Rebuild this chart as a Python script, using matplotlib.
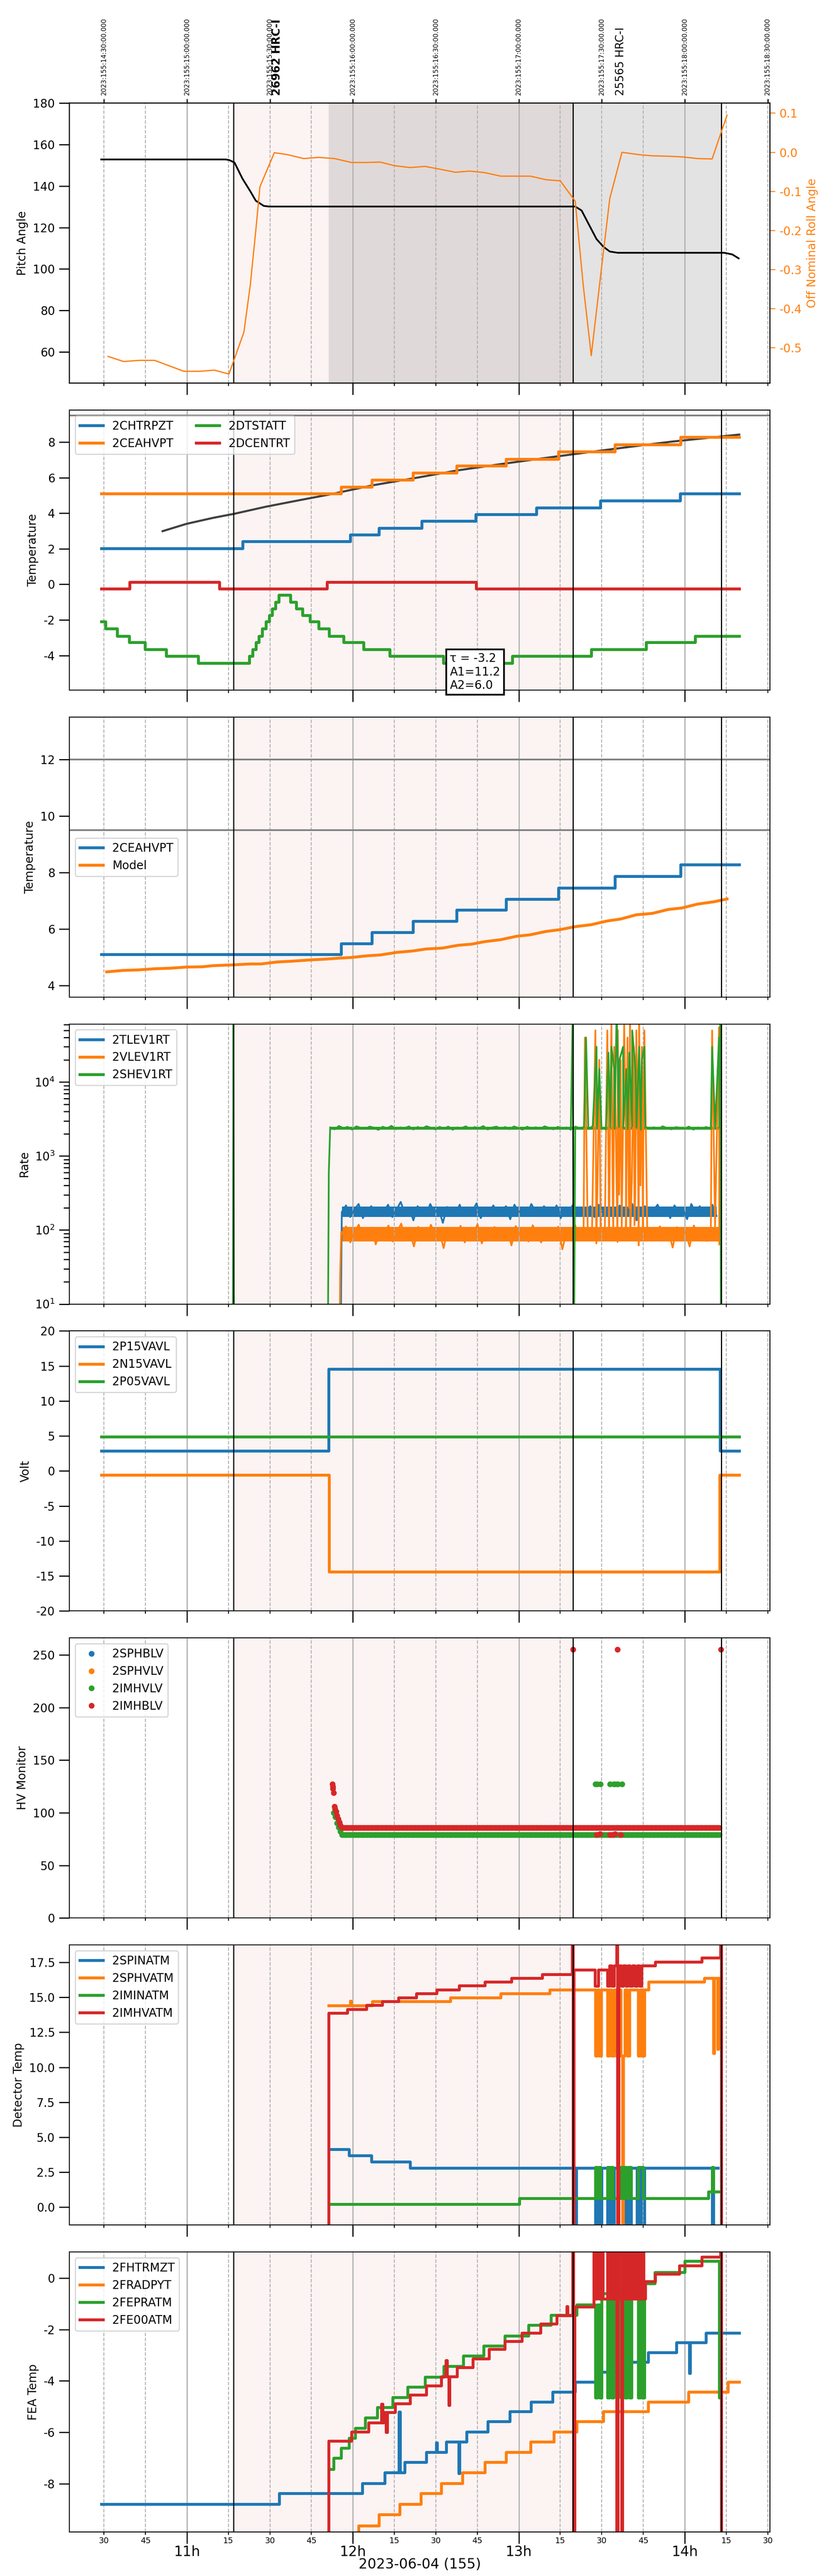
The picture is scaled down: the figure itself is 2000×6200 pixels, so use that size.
from datetime import datetime, timedelta
import numpy as np
import matplotlib
matplotlib.use("Agg")
import matplotlib.pyplot as plt
import matplotlib.dates as mdates
from matplotlib.ticker import FuncFormatter

plt.rcParams['axes.unicode_minus'] = False

# All times are minutes after 10:00 local (EDT) on 2023-06-04; UTC = local + 4h
BASE = datetime(2023, 6, 4, 10, 0)
UTC_SHIFT = timedelta(hours=4)

x_range = (17.5, 270.8)
obs_edges = [76.9, 199.6, 253.2]
hv_on = (111.2, 253.2)
obs_labels = [(92.6, '26962 HRC-I', 'bold'), (216.8, '25565 HRC-I', 'normal')]

# ---- panel 1: pitch / roll
pitch_t = [29.0, 74.0, 75.3, 77.2, 80.1, 82.9, 84.9, 87.8, 89.7, 200.4, 202.7, 205.2,
           208.1, 210.6, 212.9, 215.8, 254.3, 257.2, 259.5]
pitch_v = [152.8, 152.8, 152.5, 151.3, 143.5, 137.5, 132.9, 130.4, 130.1, 130.1, 128.2, 121.8,
           114.4, 110.7, 108.4, 107.8, 107.8, 107.0, 105.1]
roll_t = [31.5, 37.1, 42.9, 48.3, 58.9, 64.7, 69.9, 75.2, 80.6, 82.9, 84.9, 86.4, 91.6, 96.4,
          102.2, 107.6, 113.4, 119.5, 124.9, 129.9, 134.9, 140.7, 146.1, 151.3, 157.1, 162.3,
          167.7, 173.5, 178.8, 184.2, 189.8, 195.0, 200.4, 203.3, 206.2, 210.0, 212.9, 217.3,
          223.5, 228.3, 234.1, 239.5, 244.7, 249.9, 253.4, 255.3]
roll_v = [-0.522, -0.535, -0.532, -0.532, -0.560, -0.560, -0.557, -0.567, -0.460, -0.340, -0.200,
          -0.088, -0.001, -0.006, -0.016, -0.013, -0.016, -0.026, -0.026, -0.025, -0.034, -0.039,
          -0.036, -0.043, -0.051, -0.048, -0.052, -0.061, -0.061, -0.061, -0.070, -0.073, -0.125,
          -0.340, -0.520, -0.290, -0.118, 0.000, -0.006, -0.009, -0.010, -0.012, -0.016, -0.017,
          0.056, 0.095]

# ---- panel 2: temperatures
chtr_t = [29.0, 80.1, 119.1, 129.5, 144.9, 164.4, 186.3, 209.5, 238.3, 259.7]
chtr_v = [2.02, 2.41, 2.80, 3.17, 3.55, 3.94, 4.31, 4.71, 5.10, 5.10]
ceah_t = [29.0, 115.7, 126.8, 141.7, 157.5, 175.4, 194.4, 214.8, 238.5, 259.7]
ceah_v = [5.10, 5.48, 5.88, 6.27, 6.67, 7.05, 7.45, 7.86, 8.27, 8.27]
dtst_t = [29.0, 30.6, 34.8, 39.2, 44.8, 52.5, 64.1, 82.6, 83.7, 84.9, 86.0, 87.2, 88.5, 89.7,
          90.8, 92.0, 93.2, 97.4, 99.5, 101.8, 104.5, 107.6, 111.4, 116.6, 123.8, 133.4, 152.7,
          177.7, 206.2, 226.0, 243.7, 259.7]
dtst_v = [-2.1, -2.5, -2.9, -3.27, -3.65, -4.02, -4.43, -4.02, -3.65, -3.27, -2.9, -2.5, -2.1,
          -1.75, -1.37, -1.0, -0.6, -1.0, -1.37, -1.75, -2.1, -2.5, -2.9, -3.27, -3.65, -4.02,
          -4.43, -4.02, -3.65, -3.27, -2.9, -2.9]
dcen_t = [29.0, 39.3, 71.8, 110.7, 164.6, 259.7]
dcen_v = [-0.24, 0.13, -0.24, 0.13, -0.24, -0.24]
fit_t = [51.2, 59.8, 69.5, 77.2, 88.7, 100.3, 111.8, 127.2, 142.6, 158.0, 173.5, 188.9, 204.3,
         219.6, 235.1, 259.7]
fit_v = [2.99, 3.40, 3.74, 3.97, 4.37, 4.72, 5.06, 5.57, 5.98, 6.41, 6.76, 7.09, 7.41, 7.72,
         8.02, 8.42]
fit_text = 'τ = -3.2\nA1=11.2\nA2=6.0'

# ---- panel 3: model
model_t = [31.0, 36.7, 42.5, 48.3, 54.1, 59.8, 65.6, 69.5, 77.2, 82.9, 86.8, 92.6, 98.3, 104.1,
           109.9, 115.7, 119.5, 125.3, 130.1, 135.9, 141.7, 146.5, 152.3, 158.0, 162.9, 167.7,
           173.5, 179.2, 184.0, 189.8, 194.6, 200.4, 206.2, 211.9, 216.8, 222.5, 228.3, 234.1,
           238.9, 244.7, 250.5, 255.3]
model_v = [4.48, 4.53, 4.55, 4.59, 4.61, 4.65, 4.66, 4.70, 4.73, 4.76, 4.76, 4.83, 4.86, 4.90,
           4.93, 4.97, 4.99, 5.05, 5.08, 5.17, 5.22, 5.29, 5.32, 5.42, 5.46, 5.55, 5.62, 5.74,
           5.79, 5.91, 5.97, 6.08, 6.15, 6.28, 6.35, 6.50, 6.55, 6.69, 6.74, 6.88, 6.96, 7.06]
plan_limits = [9.5, 12.0]

# ---- panel 4: rates (band = regularly sampled stretch, core = its dense middle)
tlev_pre_t = [29.0, 115.5, 115.9]
tlev_pre_v = [1, 1, 70]
tlev_band_span = (116.0, 251.5)
tlev_core = (150, 208)
tlev_band = [175, 215, 150, 190, 225, 145, 185, 210, 160, 195, 180, 220, 150, 190, 240, 165, 200,
             135, 210, 180, 160, 225, 175, 195, 125, 205, 185, 165, 220, 155, 195, 180, 230, 145,
             190, 175, 215, 160, 185, 210, 140, 220, 175, 190, 160, 225, 180, 155, 210, 185, 165,
             215, 145, 195, 180, 225, 160, 190, 175, 210, 150, 220, 185, 165, 200, 155, 215, 180,
             170, 225, 135, 190, 210, 160, 185, 220, 165, 200, 145, 215, 180, 195, 140, 225, 175,
             210, 160, 185, 220, 155]
vlev_pre_t = [29.0, 115.2, 115.4, 115.8]
vlev_pre_v = [1, 1, 25, 95]
vlev_band_span = (116.0, 252.5)
vlev_core = (70, 110)
vlev_band = [88, 112, 68, 95, 118, 74, 92, 108, 64, 98, 84, 115, 70, 93, 122, 76, 97, 60, 110, 88,
             72, 118, 84, 96, 57, 108, 90, 76, 114, 68, 95, 86, 120, 66, 93, 80, 110, 72, 90, 106,
             62, 113, 84, 94, 70, 116, 87, 68, 106, 90, 76, 111, 55, 97, 86, 117, 72, 93, 82, 107,
             66, 113, 89, 75, 100, 69, 111, 86, 80, 116, 62, 94, 106, 72, 89, 112, 76, 98, 58, 109,
             86, 95, 60, 115, 80, 106, 71, 90, 112, 64]
vlev_burst_t = [203.9, 207.7, 208.4, 209.1, 212.0, 212.5, 213.0, 213.5, 214.0, 214.5, 215.0,
                215.8, 216.3, 216.8, 218.1, 218.7, 219.3, 219.8, 220.2, 220.9, 221.6, 222.1,
                222.5, 223.0, 223.5, 224.0, 224.5, 225.0, 225.4, 249.9, 252.4]
vlev_burst_v = [4e4, 5e4, 300, 2e4, 5e4, 400, 2500, 6e4, 200, 3e4, 3000, 5e4, 300, 2e4, 6e4, 2500,
                4e4, 200, 6e4, 500, 3e4, 300, 5e4, 2000, 6e4, 400, 3e4, 1500, 5e4, 5e4, 5.5e4]
shev_pre_t = [29.0, 76.6, 76.8, 77.0, 110.9, 111.3]
shev_pre_v = [1, 1, 1e5, 1, 1, 600]
shev_band_span = (111.8, 252.6)
shev_core = (2260, 2480)
shev_band = [2450, 2300, 2550, 2380, 2480, 2280, 2520, 2400, 2330, 2500, 2420, 2260, 2490, 2370,
             2560, 2310, 2440, 2390, 2510, 2290, 2470, 2350, 2530, 2410, 2300, 2480, 2360, 2500,
             2270, 2440, 2390, 2520, 2320, 2460, 2380, 2540, 2290, 2430, 2500, 2350, 2470, 2310,
             2510, 2400, 2280, 2490, 2370, 2450, 2330, 2520, 2410, 2300, 2480, 2360, 2440, 2270,
             2500, 2390, 2460, 2320, 2530, 2380, 2430, 2290, 2490, 2350, 2470, 2400, 2310, 2510,
             2420, 2280, 2480, 2370, 2450, 2330, 2520, 2390, 2300, 2460, 2410, 2350, 2500, 2280,
             2440, 2380, 2470, 2320, 2490, 2400]
shev_burst_t = [199.5, 199.9, 204.3, 208.1, 209.1, 212.4, 213.5, 214.5, 215.4, 216.4, 217.7, 218.9,
                220.0, 221.0, 222.2, 223.5, 224.5, 225.4, 249.9, 252.4, 252.9, 253.1]
shev_burst_v = [1e5, 1, 4e4, 3e4, 1.5e4, 2.5e4, 3e4, 1.5e4, 1e5, 2e4, 3e4, 1.5e4, 2.5e4, 5e4,
                1.5e4, 3e4, 2e4, 3e4, 3e4, 4e4, 1e5, 1]

# ---- panel 5: voltages
p15_t, p15_v = [29.0, 111.2, 252.8, 259.7], [2.85, 14.58, 2.85, 2.85]
n15_t, n15_v = [29.0, 111.4, 252.6, 259.7], [-0.58, -14.42, -0.58, -0.58]
p05_t, p05_v = [29.0, 259.7], [4.88, 4.88]

# ---- panel 6: HV monitors (flat stretches as start, end, level)
hv_sample = 0.5
imhv_ramp_t = [113.0, 113.6, 114.2, 114.8, 115.4, 116.0]
imhv_ramp_v = [100, 96, 90, 86, 82, 79]
imhv_flat = (116.4, 252.8, 79.1)
imhv_out_t = [207.7, 208.3, 209.5, 212.9, 214.3, 215.0, 215.8, 217.3]
imhv_out_v = [127, 127, 127, 127, 127, 127, 127, 127]
imhb_ramp_t = [112.6, 112.7, 112.8, 113.0, 113.4, 113.5, 113.9, 114.3, 114.7, 115.1, 115.5, 115.9]
imhb_ramp_v = [127, 125, 123, 119, 106, 104, 101, 97, 94, 91, 88, 86]
imhb_flat = (116.0, 252.8, 85.9)
imhb_out_t = [199.6, 215.6, 253.1, 208.1, 209.3, 212.9, 213.9, 214.8, 216.8]
imhb_out_v = [255, 255, 255, 79, 80, 79, 79, 80, 79]

# ---- panel 7: detector temperatures (steps)
spin_t = [111.2, 118.6, 126.7, 140.7, 200.4, 200.8, 207.7, 208.6, 209.2, 210.0, 212.0, 213.0,
          213.6, 214.5, 218.1, 219.0, 219.6, 220.6, 222.7, 223.7, 224.3, 225.4, 249.9, 250.3, 252.0]
spin_v = [4.14, 3.69, 3.25, 2.81, -20, 2.81, -20, 2.81, -20, 2.81, -20, 2.81, -20, 2.81, -20, 2.81,
          -20, 2.81, -20, 2.81, -20, 2.81, -20, 2.81, 2.81]
sphv_t = [111.2, 119.0, 119.4, 127.0, 155.2, 173.5, 191.2, 207.7, 208.4, 209.0, 209.8, 212.0,
          212.8, 213.5, 214.4, 215.2, 216.0, 216.8, 217.4, 217.7, 218.4, 219.2, 220.0, 223.2,
          224.0, 224.6, 225.4, 227.0, 247.0, 250.3, 250.6, 251.8, 252.1, 252.9]
sphv_v = [14.43, 14.75, 14.43, 14.71, 14.99, 15.28, 15.55, 10.82, 15.55, 10.82, 15.55, 10.82,
          15.55, 10.82, 15.55, 10.82, 15.55, 10.82, -20, 10.82, 15.55, 10.82, 15.55, 10.82, 15.55,
          10.82, 15.55, 16.10, 16.39, 11.0, 16.39, 11.3, 16.39, 16.39]
imin_t = [111.2, 180.2, 207.7, 208.5, 209.0, 209.5, 212.0, 213.0, 213.5, 214.0, 216.8, 217.5,
          218.0, 219.0, 219.5, 220.6, 223.1, 225.0, 248.5, 249.9, 250.3, 252.4]
imin_v = [0.22, 0.64, 2.85, 0.64, 2.85, 0.64, 2.85, 0.64, 2.85, 0.64, 2.85, 0.64, 2.85, 0.64,
          2.85, 0.64, 2.85, 0.64, 1.10, 2.85, 1.10, 1.10]
imhva_t = [110.9, 111.2, 118.0, 124.9, 130.7, 136.5, 143.0, 150.3, 158.4, 167.7, 177.3, 188.5,
           199.3, 199.6, 199.9, 207.5, 208.7, 212.0, 212.8, 213.6, 214.4, 215.3, 215.7, 216.1,
           217.0, 217.8, 218.6, 219.4, 220.2, 221.0, 222.0, 222.8, 223.6, 224.4, 229.3, 246.2,
           252.9, 253.2, 253.4]
imhva_v = [-20, 13.88, 14.15, 14.44, 14.71, 14.99, 15.28, 15.55, 15.83, 16.10, 16.39, 16.66, 30,
           -20, 16.97, 15.80, 16.97, 15.80, 17.28, 15.80, 17.28, 30, -20, 17.28, 15.80, 17.28,
           15.80, 17.28, 15.80, 17.28, 15.80, 17.28, 15.80, 17.28, 17.54, 17.83, 30, -20, -20]

# ---- panel 8: FEA temperatures (steps)
fhtr_t = [29.0, 93.3, 123.4, 131.5, 136.7, 137.1, 138.8, 146.5, 150.1, 150.5, 153.8, 158.2,
          158.6, 161.1, 168.8, 176.7, 184.4, 192.3, 200.4, 207.7, 219.3, 226.8, 237.0, 241.6,
          242.0, 247.6, 259.7]
fhtr_v = [-8.80, -8.38, -7.98, -7.57, -5.20, -7.57, -7.17, -6.77, -6.40, -6.77, -6.37, -7.60,
          -6.37, -5.98, -5.58, -5.19, -4.81, -4.43, -4.04, -3.66, -3.26, -2.89, -2.51, -3.70,
          -2.51, -2.14, -2.14]
frad_t = [29.0, 122.0, 129.5, 136.9, 144.6, 151.9, 159.6, 167.7, 175.4, 184.2, 192.7, 201.0,
          210.6, 226.8, 241.4, 255.7, 259.7]
frad_v = [-10.3, -9.63, -9.2, -8.79, -8.38, -7.98, -7.57, -7.17, -6.77, -6.37, -5.98, -5.58,
          -5.19, -4.81, -4.43, -4.04, -4.04]
fepr_t = [111.2, 113.0, 115.7, 118.6, 120.9, 124.5, 128.8, 134.4, 139.8, 146.1, 152.9, 160.0,
          167.3, 175.0, 183.5, 191.7, 201.0, 207.7, 208.4, 209.2, 210.0, 212.0, 212.8, 213.5,
          214.3, 216.8, 217.5, 218.3, 219.2, 220.0, 220.7, 223.1, 223.9, 224.6, 225.4, 229.2,
          240.0, 252.4, 252.9]
fepr_v = [-7.43, -7.00, -6.62, -6.22, -5.83, -5.43, -5.03, -4.64, -4.24, -3.84, -3.43, -3.03,
          -2.64, -2.24, -1.83, -1.43, -1.03, -4.66, -1.03, -4.66, -0.60, -4.66, -0.60, -4.66,
          -0.60, -4.66, -0.60, -4.66, -0.60, -4.66, -0.60, -4.66, -0.60, -4.66, -0.21, 0.23,
          0.67, -4.66, -4.66]
fe00_t = [110.9, 111.2, 119.5, 125.7, 130.4, 130.8, 131.1, 132.0, 132.4, 135.3, 140.7, 146.5,
          151.9, 153.6, 154.0, 154.6, 155.0, 157.7, 163.4, 169.2, 175.0, 181.1, 187.9, 193.7,
          197.3, 197.7, 199.4, 199.8, 200.2, 207.1, 207.6, 208.3, 209.0, 209.7, 210.4, 212.0,
          212.6, 213.2, 213.8, 214.4, 215.0, 215.4, 215.8, 216.4, 217.1, 217.5, 218.0, 218.6,
          219.2, 219.8, 220.4, 221.0, 221.6, 222.2, 222.8, 223.4, 224.0, 224.6, 225.2, 225.8,
          229.3, 238.0, 246.2, 252.9, 253.2, 253.4]
fe00_v = [-12, -6.34, -5.98, -5.62, -4.90, -5.62, -5.23, -6.00, -5.23, -4.89, -4.54, -4.18,
          -3.83, -3.20, -3.83, -4.95, -3.83, -3.47, -3.13, -2.77, -2.45, -2.13, -1.77, -1.46,
          -1.10, -1.46, 3, -12, -1.11, 3, -0.8, 3, -0.8, 3, -0.8, 3, -0.8, 3, -0.8, 3, -0.8, -12,
          3, -0.8, -12, 3, -0.8, 3, -0.8, 3, -0.8, 3, -0.8, 3, -0.8, 3, -0.8, 3, -0.8, -0.13,
          0.17, 0.49, 0.83, 3, -12, -12]


def tt(mins):
    return [BASE + timedelta(minutes=float(m)) for m in mins]


def t1(m):
    return BASE + timedelta(minutes=m)


def rounded(x):
    d = mdates.num2date(x).replace(tzinfo=None) + timedelta(seconds=30)
    return d.replace(second=0, microsecond=0)


def merged(*parts):
    t = np.concatenate([np.asarray(p[0], float) for p in parts])
    v = np.concatenate([np.asarray(p[1], float) for p in parts])
    order = np.argsort(t, kind='stable')
    return t[order], v[order]


def band(span, values):
    return np.linspace(span[0], span[1], len(values)), values


def flat(seg):
    t = np.arange(seg[0], seg[1], hv_sample)
    return t, np.full(len(t), seg[2])


fig, axes = plt.subplots(8, 1, figsize=(10, 31), dpi=200, sharex=True)
fig.subplots_adjust(left=0.0835, right=0.9265, top=0.96, bottom=0.0171, hspace=0.0964)

# Panel 1
ax = axes[0]
ax.axvspan(t1(hv_on[0]), t1(hv_on[1]), color='gray', alpha=0.22, lw=0)
ax.plot(tt(pitch_t), pitch_v, color='k', lw=1.5)
ax.set_ylim(45, 180)
ax.set_ylabel('Pitch Angle')
axr = ax.twinx()
axr.plot(tt(roll_t), roll_v, color='tab:orange', lw=1.1)
axr.set_ylim(-0.59, 0.126)
axr.set_ylabel('Off Nominal Roll Angle', color='tab:orange')
axr.tick_params(axis='y', colors='tab:orange', length=4.5)
for m, label, weight in obs_labels:
    ax.text(mdates.date2num(t1(m)), 1.027, label, transform=ax.get_xaxis_transform(),
            rotation=90, ha='center', va='bottom', fontsize=9.5, fontweight=weight)

# Panel 2
ax = axes[1]
ax.plot(tt(fit_t), fit_v, color='#404040', lw=1.8)
ax.step(tt(chtr_t), chtr_v, where='post', lw=2.5, label='2CHTRPZT')
ax.step(tt(ceah_t), ceah_v, where='post', lw=2.5, label='2CEAHVPT')
ax.step(tt(dtst_t), dtst_v, where='post', lw=2.5, label='2DTSTATT')
ax.step(tt(dcen_t), dcen_v, where='post', lw=2.5, label='2DCENTRT')
ax.axhline(plan_limits[0], color='gray', lw=1.5)
ax.set_ylim(-5.94, 9.8)
ax.set_ylabel('Temperature')
ax.legend(loc='upper left', ncol=2)
ax.text(0.543, 0.133, fit_text, transform=ax.transAxes, va='top', ha='left', fontsize=10,
        zorder=10, clip_on=False,
        bbox=dict(boxstyle='square,pad=0.3', fc='white', ec='black', lw=1.5))

# Panel 3
ax = axes[2]
ax.step(tt(ceah_t), ceah_v, where='post', lw=2.5, label='2CEAHVPT')
ax.plot(tt(model_t), model_v, lw=2.5, label='Model')
for lim in plan_limits:
    ax.axhline(lim, color='gray', lw=1.5)
ax.set_ylim(3.59, 13.5)
ax.set_ylabel('Temperature')
ax.legend(loc='center left')

# Panel 4
ax = axes[3]
rate_series = [
    ('2TLEV1RT', 'tab:blue', [(tlev_pre_t, tlev_pre_v), band(tlev_band_span, tlev_band)],
     tlev_band_span, tlev_core),
    ('2VLEV1RT', 'tab:orange', [(vlev_pre_t, vlev_pre_v), band(vlev_band_span, vlev_band),
                                (vlev_burst_t, vlev_burst_v)], vlev_band_span, vlev_core),
    ('2SHEV1RT', 'tab:green', [(shev_pre_t, shev_pre_v), band(shev_band_span, shev_band),
                               (shev_burst_t, shev_burst_v)], shev_band_span, shev_core),
]
for name, color, parts, span, core in rate_series:
    t, v = merged(*parts)
    ax.plot(tt(t), v, lw=1.5, color=color, label=name)
    ax.fill_between(tt(span), [core[0]] * 2, [core[1]] * 2, color=color, lw=0)
ax.set_yscale('log')
ax.set_ylim(10, 6.1e4)
ax.set_ylabel('Rate')
leg = ax.legend(loc='upper left')
for line in leg.get_lines():
    line.set_linewidth(2.5)
ax.tick_params(axis='y', which='minor', length=5, width=1)

# Panel 5
ax = axes[4]
ax.step(tt(p15_t), p15_v, where='post', lw=2.5, label='2P15VAVL')
ax.step(tt(n15_t), n15_v, where='post', lw=2.5, label='2N15VAVL')
ax.step(tt(p05_t), p05_v, where='post', lw=2.5, label='2P05VAVL')
ax.set_ylim(-20, 20)
ax.set_ylabel('Volt')
ax.legend(loc='upper left')

# Panel 6
ax = axes[5]
ax.plot([], [], 'o', ms=4, label='2SPHBLV')
ax.plot([], [], 'o', ms=4, label='2SPHVLV')
t, v = merged((imhv_ramp_t, imhv_ramp_v), flat(imhv_flat), (imhv_out_t, imhv_out_v))
ax.plot(tt(t), v, 'o', ms=4, label='2IMHVLV')
t, v = merged((imhb_ramp_t, imhb_ramp_v), flat(imhb_flat), (imhb_out_t, imhb_out_v))
ax.plot(tt(t), v, 'o', ms=4, label='2IMHBLV')
ax.set_ylim(0, 266)
ax.set_ylabel('HV Monitor')
ax.legend(loc='upper left')

# Panel 7
ax = axes[6]
ax.step(tt(spin_t), spin_v, where='post', lw=2.5, label='2SPINATM')
ax.step(tt(sphv_t), sphv_v, where='post', lw=2.5, label='2SPHVATM')
ax.step(tt(imin_t), imin_v, where='post', lw=2.5, label='2IMINATM')
ax.step(tt(imhva_t), imhva_v, where='post', lw=2.5, label='2IMHVATM')
ax.set_ylim(-1.28, 18.75)
ax.set_ylabel('Detector Temp')
ax.legend(loc='upper left')

# Panel 8
ax = axes[7]
ax.step(tt(fhtr_t), fhtr_v, where='post', lw=2.5, label='2FHTRMZT')
ax.step(tt(frad_t), frad_v, where='post', lw=2.5, label='2FRADPYT')
ax.step(tt(fepr_t), fepr_v, where='post', lw=2.5, label='2FEPRATM')
ax.step(tt(fe00_t), fe00_v, where='post', lw=2.5, label='2FE00ATM')
ax.set_ylim(-9.88, 1.02)
ax.set_ylabel('FEA Temp')
ax.legend(loc='upper left')

# Shared decorations
for ax in axes:
    ax.axvspan(t1(obs_edges[0]), t1(obs_edges[1]), color='tab:red', alpha=0.055, lw=0, zorder=0.5)
    for e in obs_edges:
        ax.axvline(t1(e), color='k', lw=1)
    ax.grid(True, which='major', axis='x', color='#b0b0b0', lw=1)
    ax.grid(True, which='minor', axis='x', color='#b0b0b0', lw=0.8, ls='--')
    ax.tick_params(axis='y', which='major', length=9, width=1)
    ax.tick_params(axis='x', which='major', length=10, width=1)
    ax.tick_params(axis='x', which='minor', length=2.5, width=0.8)

axb = axes[-1]
axb.set_xlim(t1(x_range[0]), t1(x_range[1]))
axb.xaxis.set_major_locator(mdates.HourLocator())
axb.xaxis.set_major_formatter(FuncFormatter(lambda x, p: f"{rounded(x).hour}h"))
axb.xaxis.set_minor_locator(mdates.MinuteLocator(byminute=[15, 30, 45]))
axb.xaxis.set_minor_formatter(FuncFormatter(lambda x, p: f"{rounded(x).minute:02d}"))
axb.tick_params(axis='x', which='major', labelsize=12, pad=1.5)
axb.tick_params(axis='x', which='minor', labelsize=7, pad=2)
axb.set_xlabel('2023-06-04 (155)', fontsize=12, labelpad=-1)

# Top axis with UTC times
top = axes[0].twiny()
top.xaxis_date()
top.set_xlim(t1(x_range[0]), t1(x_range[1]))
top.xaxis.set_major_locator(mdates.MinuteLocator(byminute=[0, 30]))
top.xaxis.set_major_formatter(FuncFormatter(
    lambda x, p: (rounded(x) + UTC_SHIFT).strftime('%Y:%j:%H:%M:%S.000')))
top.tick_params(axis='x', labelrotation=90, labelsize=5.7, length=3.5, width=1)

fig.savefig('out.png', dpi=200)
